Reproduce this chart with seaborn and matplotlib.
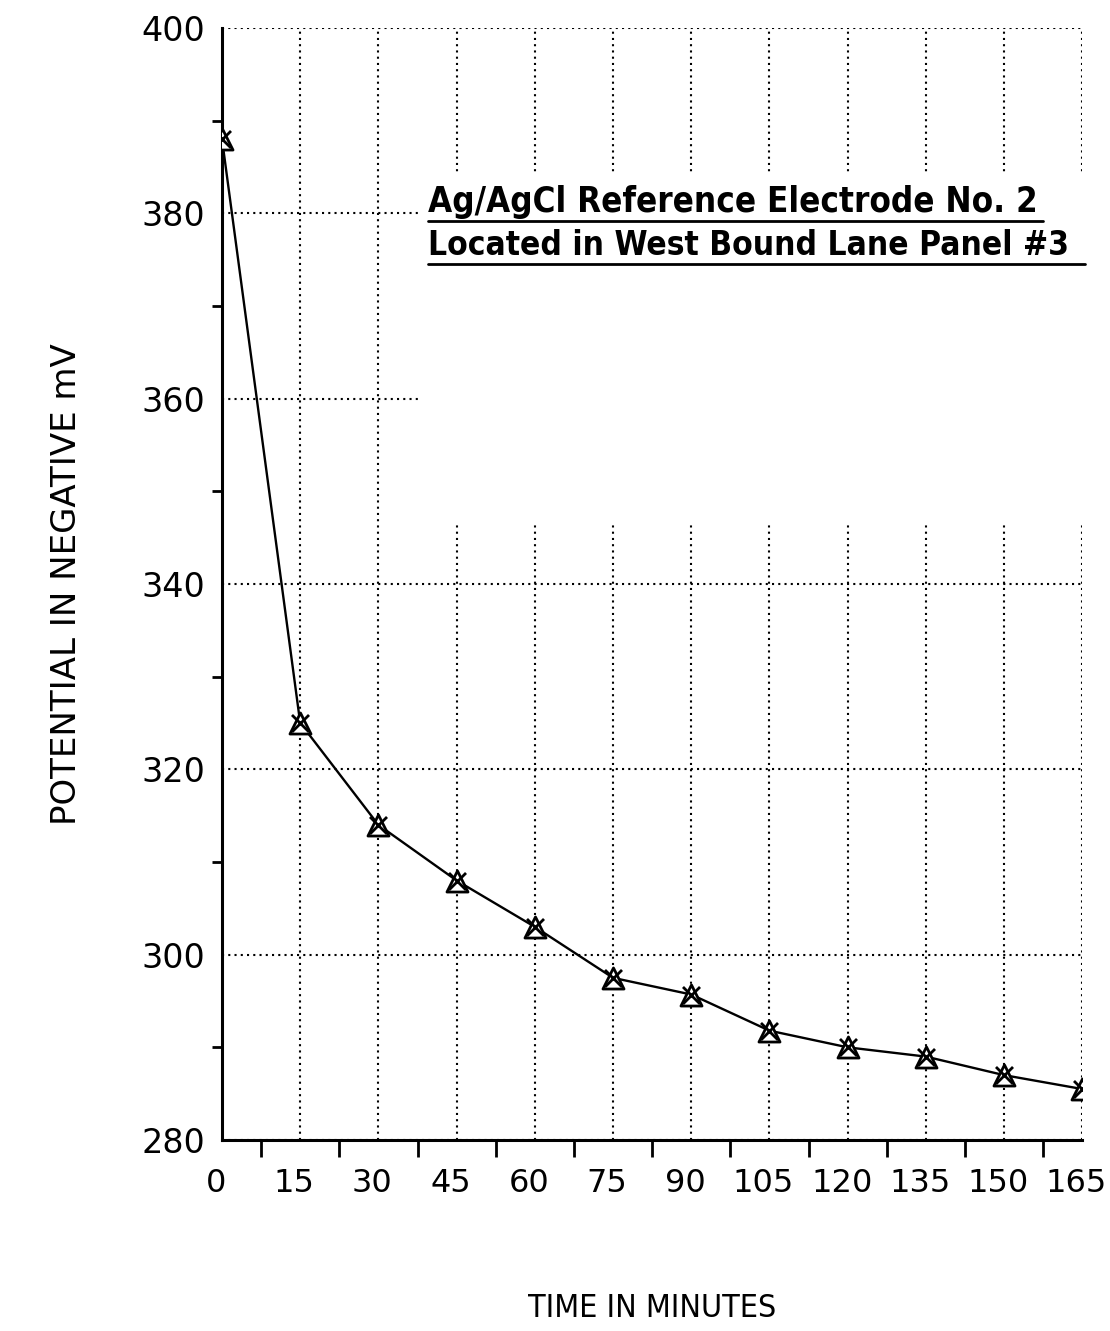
import matplotlib
matplotlib.use("Agg")
import matplotlib.pyplot as plt
import matplotlib.transforms as mtransforms
from matplotlib.patches import Rectangle
from matplotlib.lines import Line2D
import seaborn as sns
import pandas as pd
import numpy as np

# ---- data ----
time_min = [0, 15, 30, 45, 60, 75, 90, 105, 120, 135, 150, 165]
potential_mv = [388, 325, 314, 308, 303, 297.5, 295.7, 291.8, 290, 289, 287, 285.5]
x_ticks = [0, 15, 30, 45, 60, 75, 90, 105, 120, 135, 150, 165]
y_ticks = [280, 300, 320, 340, 360, 380, 400]
title_lines = ["Ag/AgCl Reference Electrode No. 2",
               "Located in West Bound Lane Panel #3"]
x_label = "TIME IN MINUTES"
y_label = "POTENTIAL IN NEGATIVE mV"

df = pd.DataFrame({"time": time_min, "potential": potential_mv})

sns.set_theme(style="white")
plt.rcParams["font.family"] = ["DejaVu Sans"]
plt.rcParams["font.stretch"] = "condensed"

fig = plt.figure(figsize=(11.1, 13.31), dpi=100)
ax = fig.add_axes([0.2, 0.1435, 0.775, 0.8355])

ax.set_xlim(0, 165)
ax.set_ylim(280, 400)
ax.set_xticks(x_ticks)
ax.set_yticks(y_ticks)
ax.set_xticks(np.arange(7.5, 165, 15), minor=True)
ax.set_yticks(np.arange(290, 400, 20), minor=True)

ax.set_axisbelow(True)
ax.grid(True, which="major", color="black", linestyle=(0, (1, 2.0)), linewidth=1.5)

sns.lineplot(data=df, x="time", y="potential", ax=ax, color="black", linewidth=1.7, zorder=3)
sns.scatterplot(data=df, x="time", y="potential", ax=ax, marker="^", s=230,
                facecolor="white", edgecolor="black", linewidth=2.0, zorder=4)
sns.scatterplot(data=df, x="time", y="potential", ax=ax, marker="x", s=150,
                color="black", linewidth=2.0, zorder=5)

for side in ["top", "right"]:
    ax.spines[side].set_visible(False)
for side in ["left", "bottom"]:
    ax.spines[side].set_color("black")
    ax.spines[side].set_linewidth(2.2)

ax.tick_params(axis="x", which="major", direction="inout", length=28, width=2, colors="black",
               labelsize=23, pad=6)
ax.tick_params(axis="x", which="minor", direction="out", length=12, width=2, colors="black", bottom=True)
ax.tick_params(axis="y", which="major", direction="out", length=13, width=2, colors="black",
               labelsize=24, pad=-1)
ax.tick_params(axis="y", which="minor", direction="out", length=7, width=2, colors="black", left=True)

for lab in ax.get_xticklabels():
    lab.set_fontstretch("normal")
    lab.set_transform(lab.get_transform() + mtransforms.ScaledTranslation(-6 / 100, 0, fig.dpi_scale_trans))
for lab in ax.get_yticklabels():
    lab.set_fontstretch("normal")

ax.set_xlabel(x_label, fontsize=23, color="black", labelpad=68)
ax.set_ylabel(y_label, fontsize=24.5, color="black", labelpad=42, fontstretch="normal")

# white area behind the title block that interrupts the grid
ax.add_patch(Rectangle((38, 346.5), 130, 38, facecolor="white", edgecolor="none",
                       zorder=1, clip_on=False))

t1 = ax.text(39.5, 381.2, title_lines[0], fontsize=25, fontweight="bold",
             va="center", ha="left", color="black", zorder=6)
t2 = ax.text(39.5, 376.5, title_lines[1], fontsize=24, fontweight="bold",
             va="center", ha="left", color="black", zorder=6)

fig.canvas.draw()
r = fig.canvas.get_renderer()
W, H = fig.bbox.width, fig.bbox.height
for t, extra in [(t1, 5), (t2, 16)]:
    bb = t.get_window_extent(r)
    y = bb.y0 - 2
    fig.add_artist(Line2D([bb.x0 / W, (bb.x1 + extra) / W], [y / H, y / H],
                          color="black", linewidth=2.0, transform=fig.transFigure))

fig.savefig("out.png", dpi=100, facecolor="white")
